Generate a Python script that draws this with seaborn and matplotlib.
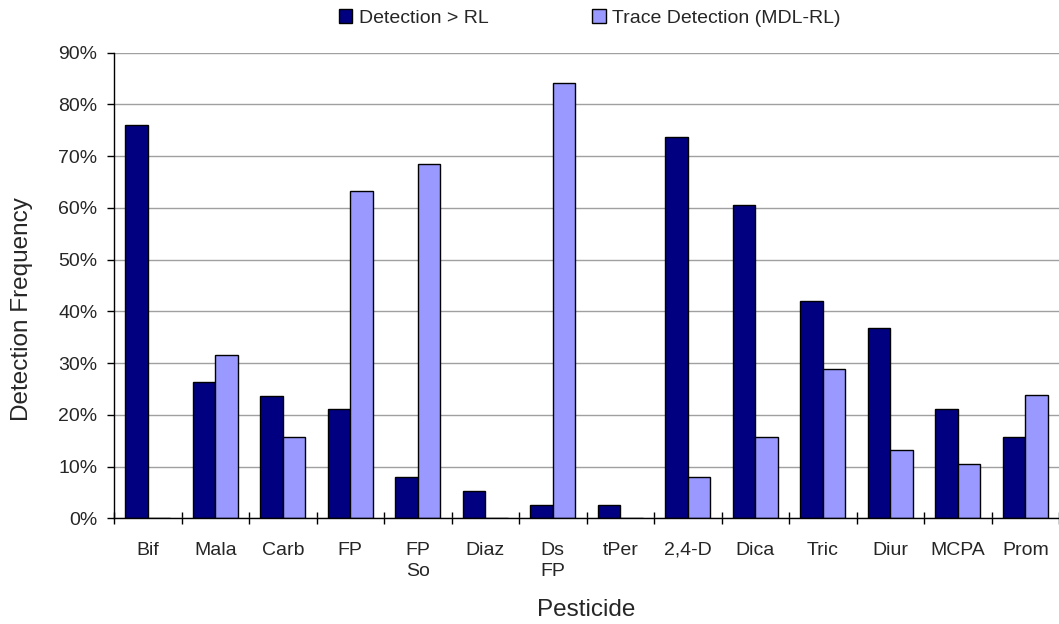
import matplotlib
matplotlib.use("Agg")
import matplotlib.pyplot as plt
import matplotlib.ticker as mticker
import numpy as np
import pandas as pd
import seaborn as sns

categories = ["Bif", "Mala", "Carb", "FP", "FP\nSo", "Diaz", "Ds\nFP", "tPer",
              "2,4-D", "Dica", "Tric", "Diur", "MCPA", "Prom"]
detection_rl = [0.761, 0.263, 0.237, 0.211, 0.079, 0.053, 0.026, 0.026,
                0.737, 0.605, 0.421, 0.368, 0.211, 0.158]
trace_detection = [0.0, 0.316, 0.158, 0.632, 0.684, 0.0, 0.842, 0.0,
                   0.079, 0.158, 0.289, 0.132, 0.105, 0.239]
series_names = ["Detection > RL", "Trace Detection (MDL-RL)"]
colors = ["#000080", "#9999FF"]

df = pd.DataFrame({
    "Pesticide": categories * 2,
    "value": detection_rl + trace_detection,
    "series": [series_names[0]] * len(categories) + [series_names[1]] * len(categories),
})

sns.set_style("white")
plt.rcParams["font.family"] = ["Liberation Sans", "DejaVu Sans"]

fig = plt.figure(figsize=(10.59, 6.24), dpi=100)
ax = fig.add_axes([0.1077, 0.1694, 1.0 - 0.1077, 0.9155 - 0.1694])

sns.barplot(data=df, x="Pesticide", y="value", hue="series", order=categories,
            hue_order=series_names, palette=colors, saturation=1, width=0.67, gap=0,
            edgecolor="black", linewidth=1, ax=ax, legend=True)

ax.set_ylim(0, 0.9)
ax.set_xlim(-0.5, len(categories) - 0.5)
ax.set_yticks(np.arange(0, 0.91, 0.1))
ax.yaxis.set_major_formatter(mticker.FuncFormatter(lambda v, p: f"{v*100:.0f}%"))
ax.yaxis.grid(True, color="#a0a0a0", linewidth=1)
ax.set_axisbelow(True)
for s in ["top", "right"]:
    ax.spines[s].set_visible(False)
for s in ["left", "bottom"]:
    ax.spines[s].set_color("black")
    ax.spines[s].set_linewidth(1)

ax.tick_params(axis="y", which="major", direction="out", length=5, width=1,
               color="black", labelsize=14, pad=7, left=True)
ax.tick_params(axis="x", which="major", length=0, labelsize=14, pad=17)
ax.set_xticks(np.arange(-0.5, len(categories), 1.0), minor=True)
ax.tick_params(axis="x", which="minor", direction="inout", length=9, width=1,
               color="black", bottom=True)
for lbl in ax.get_xticklabels():
    lbl.set_multialignment("center")
    lbl.set_verticalalignment("top")
    lbl.set_linespacing(1.3)

ax.set_xlabel("Pesticide", fontsize=17.5, labelpad=14)
ax.set_ylabel("Detection Frequency", fontsize=17.5, labelpad=18, y=0.45)

handles, labels = ax.get_legend_handles_labels()
ax.get_legend().remove()
fig.legend(handles, labels, loc="center", bbox_to_anchor=(0.557, 0.971),
           ncol=2, frameon=False, fontsize=14, handlelength=0.7,
           handleheight=0.7, handletextpad=0.35, columnspacing=5.3)

fig.savefig("out.png", dpi=100, facecolor="white")
